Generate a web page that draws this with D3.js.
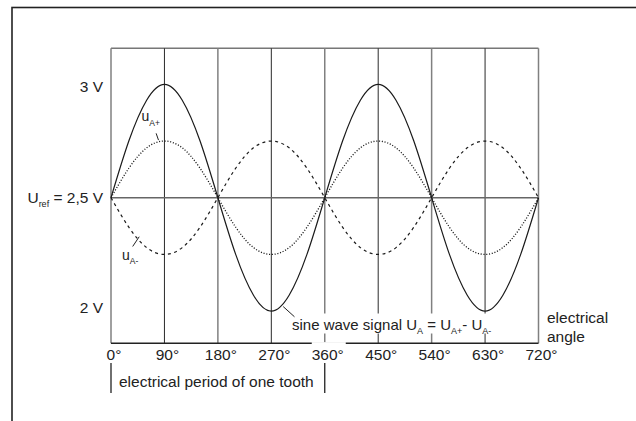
<!DOCTYPE html>
<html>
<head>
<meta charset="utf-8">
<script src="https://cdn.jsdelivr.net/npm/d3@7"></script>
<style>
  body { margin: 0; background: #fff; }
  svg { display: block; font-family: "Liberation Sans", Arial, sans-serif; }
</style>
</head>
<body>
<script>
// electrical angle samples (degrees)
const angles = [0, 30, 60, 90, 120, 150, 180, 210, 240, 270, 300, 330, 360,
                390, 420, 450, 480, 510, 540, 570, 600, 630, 660, 690, 720];
// sine wave signal U_A (V)
const signalUA = [2.5, 2.75, 2.93, 3.0, 2.93, 2.75, 2.5, 2.25, 2.07, 2.0, 2.07, 2.25, 2.5,
                  2.75, 2.93, 3.0, 2.93, 2.75, 2.5, 2.25, 2.07, 2.0, 2.07, 2.25, 2.5];
// u_A+ (V)
const uAplus = [2.5, 2.63, 2.72, 2.75, 2.72, 2.63, 2.5, 2.37, 2.28, 2.25, 2.28, 2.37, 2.5,
                2.63, 2.72, 2.75, 2.72, 2.63, 2.5, 2.37, 2.28, 2.25, 2.28, 2.37, 2.5];
// u_A- (V)
const uAminus = [2.5, 2.37, 2.28, 2.25, 2.28, 2.37, 2.5, 2.63, 2.72, 2.75, 2.72, 2.63, 2.5,
                 2.37, 2.28, 2.25, 2.28, 2.37, 2.5, 2.63, 2.72, 2.75, 2.72, 2.63, 2.5];
// axis ticks
const xTicks = [0, 90, 180, 270, 360, 450, 540, 630, 720];
const yTicks = [3, 2.5, 2];

const width = 636, height = 421;

const svg = d3.select("body").append("svg")
  .attr("width", width)
  .attr("height", height);

svg.append("rect").attr("width", width).attr("height", height).attr("fill", "#fff");

// outer frame (runs off the right and bottom edge)
svg.append("rect")
  .attr("x", 12).attr("y", 7.5)
  .attr("width", 700).attr("height", 500)
  .attr("fill", "none").attr("stroke", "#222").attr("stroke-width", 1.6);

const x = d3.scaleLinear().domain([0, 720]).range([111, 538.5]);
const y = d3.scaleLinear().domain([1.858, 3.159]).range([343.3, 48.3]);

// plot box top
svg.append("line")
  .attr("x1", x(0)).attr("x2", x(720))
  .attr("y1", y.range()[1]).attr("y2", y.range()[1])
  .attr("stroke", "#777").attr("stroke-width", 1.5);

// vertical grid lines
svg.append("g").selectAll("line")
  .data(xTicks)
  .join("line")
  .attr("x1", d => x(d)).attr("x2", d => x(d))
  .attr("y1", y.range()[1]).attr("y2", y.range()[0])
  .attr("stroke", d => d % 180 === 0 ? "#808080" : "#2a2a2a")
  .attr("stroke-width", d => d % 180 === 0 ? 1.5 : 1);

// reference line
svg.append("line")
  .attr("x1", x(0)).attr("x2", x(720))
  .attr("y1", y(2.5)).attr("y2", y(2.5))
  .attr("stroke", "#666").attr("stroke-width", 1.5);

// bottom axis line
svg.append("line")
  .attr("x1", x(0)).attr("x2", x(720))
  .attr("y1", y.range()[0]).attr("y2", y.range()[0])
  .attr("stroke", "#222").attr("stroke-width", 1.5);

// curves
const line = (vals) => d3.line()
  .x((d, i) => x(angles[i]))
  .y(d => y(d))
  .curve(d3.curveNatural)(vals);

svg.append("path").attr("d", line(uAplus))
  .attr("fill", "none").attr("stroke", "#1a1a1a").attr("stroke-width", 1.3)
  .attr("stroke-dasharray", "1.1,1.7");

svg.append("path").attr("d", line(uAminus))
  .attr("fill", "none").attr("stroke", "#1a1a1a").attr("stroke-width", 1.2)
  .attr("stroke-dasharray", "3,3.5");

svg.append("path").attr("d", line(signalUA))
  .attr("fill", "none").attr("stroke", "#1a1a1a").attr("stroke-width", 1.2);

// y labels
const yLabelOffset = {3: 2, 2.5: 0, 2: -4};
yTicks.forEach(v => {
  const t = svg.append("text")
    .attr("x", 103)
    .attr("y", y(v) + yLabelOffset[v])
    .attr("dy", "0.35em")
    .attr("text-anchor", "end")
    .attr("font-size", 15.5)
    .attr("fill", "#222");
  if (v === 2.5) {
    t.append("tspan").text("U");
    t.append("tspan").text("ref").attr("font-size", 9).attr("dy", 4);
    t.append("tspan").text(" = 2,5 V").attr("dy", -4);
  } else {
    t.text(v + " V");
  }
});

// x tick labels
const xl = svg.append("g").attr("font-size", 15.5).attr("fill", "#222");
xl.selectAll("rect")
  .data(xTicks.filter(d => d === 360))
  .join("rect")
  .attr("x", d => x(d) - 13).attr("y", y.range()[0] - 1.2)
  .attr("width", 34).attr("height", 18)
  .attr("fill", "#fff");
xl.selectAll("text")
  .data(xTicks)
  .join("text")
  .attr("x", d => x(d))
  .attr("dx", 3)
  .attr("y", 360)
  .attr("text-anchor", "middle")
  .text(d => d + "°");

// axis title
const at = svg.append("text").attr("font-size", 15.5).attr("fill", "#222");
at.append("tspan").attr("x", 547).attr("y", 323).text("electrical");
at.append("tspan").attr("x", 547).attr("y", 341.5).text("angle");

// bracket: electrical period of one tooth
svg.append("g").selectAll("line")
  .data([0, 360])
  .join("line")
  .attr("x1", d => x(d)).attr("x2", d => x(d))
  .attr("y1", 363).attr("y2", 393)
  .attr("stroke", "#222").attr("stroke-width", 1.3);
svg.append("text")
  .attr("x", x(0) + 8).attr("y", 387)
  .attr("font-size", 15.5).attr("fill", "#222")
  .text("electrical period of one tooth");

// annotations
const leader = (a1, v1, a2, v2) => svg.append("line")
  .attr("x1", x(a1)).attr("y1", y(v1))
  .attr("x2", x(a2)).attr("y2", y(v2))
  .attr("stroke", "#222").attr("stroke-width", 1);

// sine wave label box + text
svg.append("rect")
  .attr("x", 290).attr("y", 313.5)
  .attr("width", 214).attr("height", 20)
  .attr("fill", "#fff");
leader(290, 2.02, 309, 1.975);
const st = svg.append("text")
  .attr("x", 292).attr("y", 330)
  .attr("font-size", 15).attr("fill", "#222");
st.append("tspan").text("sine wave signal U");
st.append("tspan").text("A").attr("font-size", 9).attr("dy", 4);
st.append("tspan").text(" = U").attr("dy", -4);
st.append("tspan").text("A+").attr("font-size", 9).attr("dy", 4);
st.append("tspan").text("- U").attr("dy", -4);
st.append("tspan").text("A-").attr("font-size", 9).attr("dy", 4);

// u_A+ label
leader(76, 2.784, 80, 2.754);
const tp = svg.append("text")
  .attr("x", 141.5).attr("y", 120.7)
  .attr("font-size", 14).attr("fill", "#222");
tp.append("tspan").text("u");
tp.append("tspan").text("A+").attr("font-size", 8.5).attr("dy", 5);

// u_A- label
leader(36.5, 2.285, 47.5, 2.328);
const tm = svg.append("text")
  .attr("x", 122).attr("y", 260)
  .attr("font-size", 14).attr("fill", "#222");
tm.append("tspan").text("u");
tm.append("tspan").text("A-").attr("font-size", 8.5).attr("dy", 4);
</script>
</body>
</html>
